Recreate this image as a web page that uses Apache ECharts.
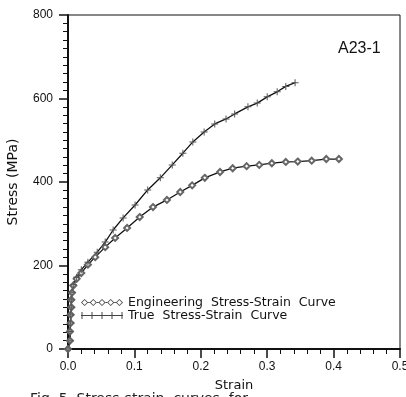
<!DOCTYPE html>
<html>
<head>
<meta charset="utf-8">
<script src="https://cdn.jsdelivr.net/npm/echarts@6/dist/echarts.min.js"></script>
<style>
  html, body { margin: 0; padding: 0; background: #fff; }
  #chart { width: 406px; height: 397px; }
</style>
</head>
<body>
<div id="chart"></div>
<script>
// values
const engStrain = [0, 0.003, 0.003, 0.004, 0.004, 0.005, 0.005, 0.006, 0.008, 0.013, 0.02, 0.03, 0.041, 0.056, 0.071, 0.089, 0.108, 0.128, 0.149, 0.169, 0.187, 0.206, 0.229, 0.248, 0.269, 0.288, 0.307, 0.328, 0.346, 0.367, 0.389, 0.408]
const engStress = [0, 20, 42, 62, 82, 100, 118, 135, 152, 168, 182, 202, 220, 244, 266, 290, 316, 340, 357, 376, 392, 410, 424, 433, 438, 441, 445, 448, 449, 451, 455, 455]
const trueStrain = [0, 0.003, 0.003, 0.004, 0.004, 0.005, 0.005, 0.006, 0.008, 0.013, 0.02, 0.03, 0.044, 0.056, 0.068, 0.083, 0.101, 0.12, 0.139, 0.157, 0.173, 0.188, 0.205, 0.221, 0.238, 0.251, 0.271, 0.285, 0.3, 0.315, 0.328, 0.342]
const trueStress = [0, 20, 42, 62, 82, 100, 118, 136, 154, 172, 190, 208, 232, 256, 285, 314, 345, 381, 410, 441, 469, 496, 520, 539, 551, 563, 580, 589, 604, 616, 629, 638]
const seriesNames = ['Engineering  Stress-Strain  Curve', 'True  Stress-Strain  Curve']

function zip(xs, ys) { return xs.map((x, i) => [x, ys[i]]) }

// legend icons: a line with a few open diamonds / crosses on it
function diamondIcon() {
  let p = ''
  const cs = [4, 12.5, 21, 29.5, 38], r = 3.5
  cs.forEach((c, i) => {
    p += `M${c - r},4L${c},${4 - r}L${c + r},4L${c},${4 + r}Z`
    p += `M${c - r + 1.1},4L${c},${4 + r - 1.1}L${c + r - 1.1},4L${c},${4 - r + 1.1}Z`
    if (i < cs.length - 1) p += `M${c + r},3.5H${cs[i + 1] - r}V4.5H${c + r}Z`
  })
  return 'path://' + p
}
function crossIcon() {
  let p = 'M0,3.5H42V4.5H0Z'
  ;[1, 11, 21, 31, 41].forEach(c => { p += `M${c - 0.5},0.5H${c + 0.5}V7.5H${c - 0.5}Z` })
  return 'path://' + p
}

const chart = echarts.init(document.getElementById('chart'))
const option = {
  backgroundColor: '#fff',
  animation: false,
  grid: {
    left: 68, right: 6, top: 15, bottom: 48,
    outerBoundsMode: 'none',
    show: true, borderColor: '#111', borderWidth: 1
  },
  legend: {
    orient: 'vertical',
    left: 81, top: 296,
    padding: 0,
    itemGap: 0,
    itemWidth: 42, itemHeight: 8,
    itemStyle: { color: '#444', borderWidth: 0 },
    textStyle: { fontFamily: 'DejaVu Sans', fontSize: 12.5, color: '#111', lineHeight: 11 },
    data: [
      { name: seriesNames[0], icon: diamondIcon() },
      { name: seriesNames[1], icon: crossIcon() }
    ]
  },
  xAxis: {
    type: 'value',
    min: 0, max: 0.5, interval: 0.1,
    name: 'Strain',
    nameLocation: 'middle',
    nameGap: 30,
    nameTextStyle: { fontFamily: 'DejaVu Sans', fontSize: 13, color: '#111' },
    axisLine: { show: true, lineStyle: { color: '#111', width: 2 } },
    axisTick: { show: true, length: 9, lineStyle: { color: '#111', width: 1.5 } },
    minorTick: { show: true, splitNumber: 5, length: 5, lineStyle: { color: '#111', width: 1 } },
    splitLine: { show: false },
    axisLabel: {
      margin: 12,
      fontFamily: 'Liberation Sans', fontSize: 12, color: '#111',
      formatter: v => v.toFixed(1)
    }
  },
  yAxis: {
    type: 'value',
    min: 0, max: 800, interval: 200,
    name: 'Stress (MPa)',
    nameLocation: 'middle',
    nameGap: 48,
    nameTextStyle: { fontFamily: 'DejaVu Sans', fontSize: 14, color: '#111' },
    axisLine: { show: true, lineStyle: { color: '#111', width: 2 } },
    axisTick: { show: true, length: 9, lineStyle: { color: '#111', width: 1.5 } },
    minorTick: { show: true, splitNumber: 10, length: 5, lineStyle: { color: '#111', width: 1 } },
    splitLine: { show: false },
    axisLabel: { margin: 15, fontFamily: 'Liberation Sans', fontSize: 12, color: '#111' }
  },
  graphic: [
    {
      type: 'text', left: 338, top: 41,
      style: { text: 'A23-1', font: '16px "Liberation Sans"', fill: '#111' }
    },
    {
      type: 'text', left: 30, top: 392,
      style: { text: 'Fig. 5  Stress-strain  curves  for', font: '14px "DejaVu Sans"', fill: '#222' }
    }
  ],
  series: [
    {
      name: seriesNames[0],
      type: 'line',
      data: zip(engStrain, engStress),
      symbol: 'emptyDiamond',
      symbolSize: 6,
      showAllSymbol: true,
      lineStyle: { color: '#111', width: 1.3 },
      itemStyle: { color: '#666', borderWidth: 1 }
    },
    {
      name: seriesNames[1],
      type: 'line',
      data: zip(trueStrain, trueStress),
      symbol: 'path://M3,0H4V3H7V4H4V7H3V4H0V3H3Z',
      symbolSize: 7,
      showAllSymbol: true,
      lineStyle: { color: '#111', width: 1.3 },
      itemStyle: { color: '#555' }
    }
  ]
}
chart.setOption(option)
</script>
</body>
</html>
